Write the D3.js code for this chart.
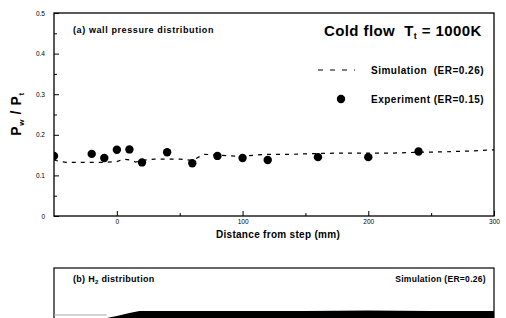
<!DOCTYPE html>
<html>
<head>
<meta charset="utf-8">
<script src="https://cdn.jsdelivr.net/npm/d3@7"></script>
<style>
  body { margin: 0; background: #fff; }
  svg { display: block; font-family: "Liberation Sans", Arial, sans-serif; }
  text { white-space: pre; }
  .axis path { display: none; }
  .axis line { stroke: #000; stroke-width: 1; }
  .axis text { font-size: 6.5px; fill: #000; }
</style>
</head>
<body>
<svg id="chart" width="506" height="318"></svg>
<script>
// experiment (ER=0.15)
var expX = [-50, -20, -10, 0, 10, 20, 40, 60, 80, 100, 120, 160, 200, 240];
var expP = [0.148, 0.153, 0.143, 0.163, 0.164, 0.132, 0.157, 0.130, 0.148, 0.143, 0.138, 0.145, 0.145, 0.159];

// simulation (ER=0.26)
var simX = [-50, -45, -40, -30, -20, -10, 0, 5, 10, 15, 20, 30, 40, 50, 60, 65, 70, 80, 90, 100, 110, 120, 140, 160, 180, 200, 220, 240, 260, 280, 300];
var simP = [0.138, 0.134, 0.132, 0.132, 0.132, 0.132, 0.134, 0.140, 0.138, 0.133, 0.137, 0.140, 0.140, 0.140, 0.137, 0.145, 0.152, 0.150, 0.148, 0.147, 0.150, 0.152, 0.152, 0.154, 0.155, 0.155, 0.155, 0.157, 0.158, 0.160, 0.163];

// (b) H2 plume thickness, simulation
var h2X = [-8, 0, 10, 18, 60, 100, 150, 200, 250, 300];
var h2T = [0, 0.04, 0.10, 0.14, 0.14, 0.14, 0.14, 0.15, 0.14, 0.14];
var wallX = [-50, -8];

var xTicks = [0, 100, 200, 300],
    xMinor = [50, 150, 250],
    yTicks = [0, 0.1, 0.2, 0.3, 0.4, 0.5],
    yMinor = [0.05, 0.15, 0.25, 0.35, 0.45];

var svg = d3.select("#chart"),
    margin = {top: 13, right: 12, bottom: 102, left: 54},
    width  = +svg.attr("width") - margin.left - margin.right,
    height = +svg.attr("height") - margin.top - margin.bottom;

var x = d3.scaleLinear().domain([-50, 300]).range([0, width]),
    y = d3.scaleLinear().domain([0, 0.5]).range([height, 0]);

var g = svg.append("g")
    .attr("transform", "translate(" + margin.left + "," + margin.top + ")");

svg.append("defs").append("clipPath")
    .attr("id", "clip")
    .append("rect")
    .attr("width", width)
    .attr("height", height);

// axes, ticks inside the box
g.append("g").attr("class", "axis")
    .attr("transform", "translate(0," + height + ")")
    .call(d3.axisBottom(x).tickValues(xTicks).tickSize(-5).tickPadding(3).tickFormat(d3.format("d")));
g.append("g").attr("class", "axis")
    .attr("transform", "translate(0," + height + ")")
    .call(d3.axisBottom(x).tickValues(xMinor).tickSize(-3).tickFormat(""));
g.append("g").attr("class", "axis")
    .call(d3.axisLeft(y).tickValues(yTicks).tickSize(-5).tickPadding(9).tickFormat(function(d) { return d === 0 ? "0" : d3.format(".1f")(d); }));
g.append("g").attr("class", "axis")
    .call(d3.axisLeft(y).tickValues(yMinor).tickSize(-3).tickFormat(""));

g.append("rect")
    .attr("width", width)
    .attr("height", height)
    .attr("fill", "none")
    .attr("stroke", "#000")
    .attr("stroke-width", 1.3);

var line = d3.line()
    .x(function(d, i) { return x(simX[i]); })
    .y(function(d) { return y(d); });

g.append("path")
    .datum(simP)
    .attr("clip-path", "url(#clip)")
    .attr("d", line)
    .attr("fill", "none")
    .attr("stroke", "#000")
    .attr("stroke-width", 1.2)
    .attr("stroke-dasharray", "4,5");

g.append("g")
    .attr("clip-path", "url(#clip)")
  .selectAll("circle")
    .data(expP)
    .enter().append("circle")
    .attr("cx", function(d, i) { return x(expX[i]); })
    .attr("cy", function(d) { return y(d); })
    .attr("r", 4.2)
    .attr("fill", "#000");

// labels
g.append("text")
    .attr("x", 19).attr("y", 20)
    .attr("font-size", 9).attr("font-weight", "bold")
    .attr("letter-spacing", 0.6)
    .text("(a) wall pressure distribution");

var title = g.append("text")
    .attr("x", 270).attr("y", 23)
    .attr("font-size", 15).attr("font-weight", "bold")
    .attr("letter-spacing", 0.4);
title.append("tspan").text("Cold flow  T");
title.append("tspan").attr("font-size", 9).attr("dy", 3).text("t");
title.append("tspan").attr("dy", -3).text(" = 1000K");

// legend
g.append("line")
    .attr("x1", 264).attr("x2", 301)
    .attr("y1", 57).attr("y2", 57)
    .attr("stroke", "#000").attr("stroke-width", 1.2)
    .attr("stroke-dasharray", "5,7");
g.append("text")
    .attr("x", 317).attr("y", 61)
    .attr("font-size", 10).attr("font-weight", "bold")
    .attr("letter-spacing", 0.5)
    .text("Simulation  (ER=0.26)");
g.append("circle")
    .attr("cx", 287).attr("cy", 86).attr("r", 4.2).attr("fill", "#000");
g.append("text")
    .attr("x", 317).attr("y", 90)
    .attr("font-size", 10).attr("font-weight", "bold")
    .attr("letter-spacing", 0.5)
    .text("Experiment (ER=0.15)");

var ylab = svg.append("text")
    .attr("transform", "translate(21,114) rotate(-90)")
    .attr("text-anchor", "middle")
    .attr("font-size", 14).attr("font-weight", "bold")
    .attr("letter-spacing", 0.6);
ylab.append("tspan").text("P");
ylab.append("tspan").attr("font-size", 8).attr("dy", 3).text("w");
ylab.append("tspan").attr("dy", -3).text(" / P");
ylab.append("tspan").attr("font-size", 8).attr("dy", 3).text("t");

svg.append("text")
    .attr("x", margin.left + width / 2 + 4).attr("y", 238)
    .attr("text-anchor", "middle")
    .attr("font-size", 10).attr("font-weight", "bold")
    .attr("letter-spacing", 0.3)
    .text("Distance from step (mm)");

// panel (b)
var gb = svg.append("g")
    .attr("transform", "translate(" + margin.left + ",268)");
var hb = 50;
var yb = d3.scaleLinear().domain([0, 1]).range([hb, 0]);

gb.append("rect")
    .attr("width", width)
    .attr("height", hb + 20)
    .attr("fill", "none")
    .attr("stroke", "#000")
    .attr("stroke-width", 1.2);

gb.append("path")
    .datum(h2T)
    .attr("d", d3.area()
        .x(function(d, i) { return x(h2X[i]); })
        .y0(hb)
        .y1(function(d) { return yb(d); }))
    .attr("fill", "#000");

gb.append("line")
    .attr("x1", x(wallX[0])).attr("x2", x(wallX[1]))
    .attr("y1", yb(0.06)).attr("y2", yb(0.06))
    .attr("stroke", "#aaa").attr("stroke-width", 1);

var bt = gb.append("text")
    .attr("x", 19).attr("y", 14)
    .attr("font-size", 9).attr("font-weight", "bold")
    .attr("letter-spacing", 0.3);
bt.append("tspan").text("(b) H");
bt.append("tspan").attr("font-size", 6).attr("dy", 2).text("2");
bt.append("tspan").attr("dy", -2).text(" distribution");
gb.append("text")
    .attr("x", width - 8).attr("y", 14)
    .attr("text-anchor", "end")
    .attr("font-size", 8.5).attr("font-weight", "bold")
    .attr("letter-spacing", 0.3)
    .text("Simulation (ER=0.26)");
</script>
</body>
</html>
